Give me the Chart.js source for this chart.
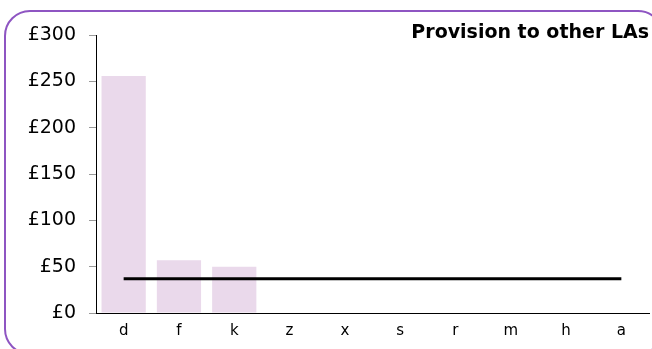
<!DOCTYPE html>
<html>
<head>
<meta charset="utf-8">
<script src="https://cdn.jsdelivr.net/npm/chart.js@4.4.1/dist/chart.umd.min.js"></script>
<style>
  html, body { margin: 0; padding: 0; background: #fff; }
  #wrap { position: relative; width: 652px; height: 349px; overflow: hidden; }
  #frame {
    position: absolute; left: 4px; top: 10px; width: 660px; height: 345px;
    border: 2px solid #8e55c2; border-radius: 26px; box-sizing: border-box;
  }
  canvas { position: absolute; left: 0; top: 0; }
</style>
</head>
<body>
<div id="wrap">
  <div id="frame"></div>
  <canvas id="chart" width="652" height="349"></canvas>
</div>
<script>
var categories = ["d", "f", "k", "z", "x", "s", "r", "m", "h", "a"];
var provision = [256, 57, 50, 0, 0, 0, 0, 0, 0, 0];
var average = [37, 37, 37, 37, 37, 37, 37, 37, 37, 37];
var yTicks = [0, 50, 100, 150, 200, 250, 300];

var ctx = document.getElementById("chart").getContext("2d");

var chart = new Chart(ctx, {
  data: {
    labels: categories,
    datasets: [
      {
        type: "line",
        label: "Average",
        data: average,
        borderColor: "#000",
        borderWidth: 3,
        pointRadius: 0,
        fill: false,
        order: 0
      },
      {
        type: "bar",
        label: "Provision to other LAs",
        data: provision,
        backgroundColor: "#ead9eb",
        barPercentage: 0.8,
        categoryPercentage: 1,
        order: 1
      }
    ]
  },
  options: {
    responsive: false,
    animation: false,
    layout: { padding: { left: 0, right: 3, top: 0, bottom: 0 } },
    plugins: {
      legend: { display: false },
      tooltip: { enabled: false },
      title: {
        display: true,
        text: "Provision to other LAs",
        align: "end",
        color: "#000",
        font: { family: "DejaVu Sans", size: 19, weight: "bold", lineHeight: 0.8 },
        padding: { top: 25, bottom: -5 }
      }
    },
    scales: {
      x: {
        grid: { display: false, drawTicks: false },
        border: { color: "#000", width: 1 },
        ticks: {
          color: "#000",
          padding: 9,
          font: { family: "DejaVu Sans", size: 15 }
        },
        afterFit: function(scale) { scale.height = 36; }
      },
      y: {
        min: 0,
        max: 300,
        afterBuildTicks: function(scale) {
          scale.ticks = yTicks.map(function(v) { return { value: v }; });
        },
        grid: { drawOnChartArea: false, tickLength: 7, tickColor: "#999" },
        border: { color: "#000", width: 1 },
        ticks: {
          color: "#000",
          padding: 13,
          font: { family: "DejaVu Sans", size: 19 },
          callback: function(v) { return "£" + v; }
        },
        afterFit: function(scale) { scale.width = 96; }
      }
    }
  }
});
</script>
</body>
</html>
